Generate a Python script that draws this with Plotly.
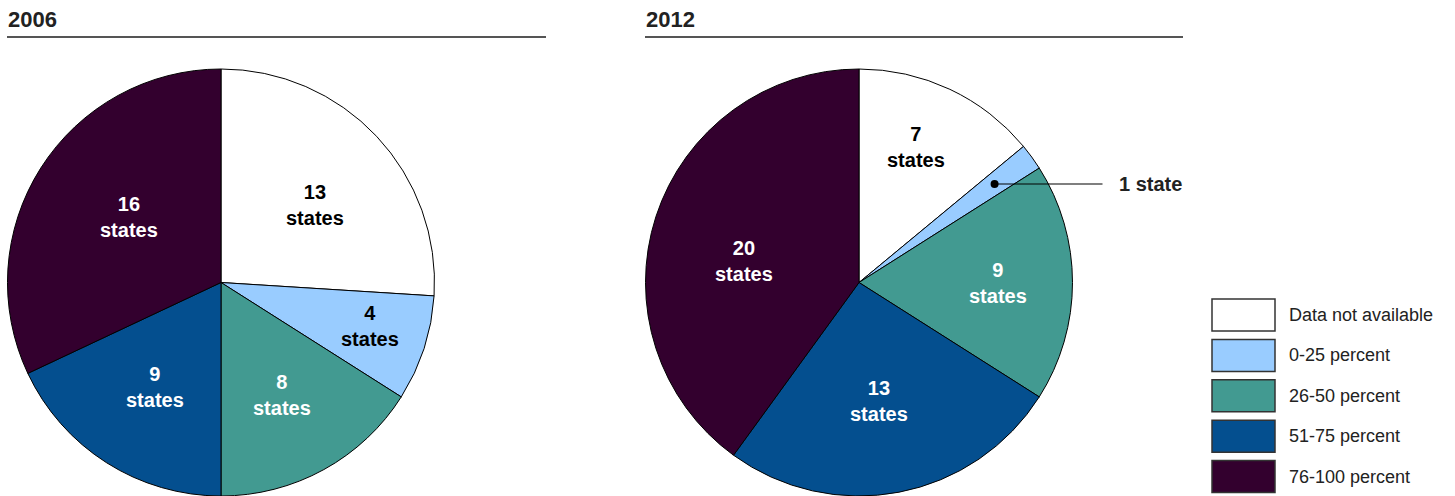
import math
import plotly.graph_objects as go

# ---------------- data ----------------
categories = ["Data not available", "0-25 percent", "26-50 percent", "51-75 percent", "76-100 percent"]
years = ["2006", "2012"]
states_2006 = [13, 4, 8, 9, 16]
states_2012 = [7, 1, 9, 13, 20]

# ---------------- styles ----------------
colors = ["#FFFFFF", "#99CCFF", "#429A91", "#044F8F", "#33002E"]
label_colors = ["#000000", "#000000", "#FFFFFF", "#FFFFFF", "#FFFFFF"]
# label placement: fraction of radius and angular nudge (degrees) from slice mid-angle
label_radius = [[0.57, 0.725, 0.60, 0.58, 0.53], [0.69, 0.785, 0.65, 0.565, 0.55]]
label_nudge = [[3.7, -1.7, 0.6, 0.0, 2.8], [-2.4, 0.0, 0.0, 1.3, -7.5]]

# ---------------- layout constants (pixels) ----------------
W, H = 1455, 496
FONT = "Liberation Sans, Arial, Helvetica, sans-serif"
pie_left = [7, 645]
pie_top = 69
pie_size = 428
title_line_right = [546, 1183]


def px_x(px):
    return px / W


def px_y(py):
    return 1 - py / H


fig = go.Figure()
shapes = []
annotations = []

for i, (year, vals) in enumerate(zip(years, [states_2006, states_2012])):
    x0 = pie_left[i]
    dom_x = [px_x(x0), px_x(x0 + pie_size)]
    dom_y = [0, px_y(pie_top)]
    fig.add_trace(go.Pie(
        labels=categories,
        values=vals,
        sort=False,
        direction="clockwise",
        rotation=0,
        marker=dict(colors=colors, line=dict(color="#000000", width=1)),
        textinfo="none",
        hoverinfo="label+value",
        showlegend=False,
        domain=dict(x=dom_x, y=dom_y),
    ))
    # geometry of the drawn pie
    r = min(pie_size, (dom_y[1] - dom_y[0]) * H) / 2
    cx = x0 + pie_size / 2
    cy = (1 - (dom_y[0] + dom_y[1]) / 2) * H
    total = sum(vals)
    cum = 0
    for k, v in enumerate(vals):
        a0 = cum / total * 2 * math.pi
        cum += v
        a1 = cum / total * 2 * math.pi
        mid = (a0 + a1) / 2 + math.radians(label_nudge[i][k])
        f = label_radius[i][k]
        tx = cx + f * r * math.sin(mid)
        ty = cy - f * r * math.cos(mid)
        if v == 1:
            # callout
            shapes.append(dict(type="circle", xref="paper", yref="paper",
                               x0=px_x(tx - 4), x1=px_x(tx + 4),
                               y0=px_y(ty + 4), y1=px_y(ty - 4),
                               fillcolor="#000000", line=dict(color="#000000", width=0)))
            edge = cx + r
            shapes.append(dict(type="line", xref="paper", yref="paper",
                               x0=px_x(tx), x1=px_x(edge + 30), y0=px_y(ty), y1=px_y(ty),
                               line=dict(color="#000000", width=1.2)))
            annotations.append(dict(text="<b>%d state</b>" % v, x=px_x(edge + 44), y=px_y(ty),
                                    xref="paper", yref="paper", xanchor="left", yanchor="middle",
                                    showarrow=False, font=dict(family=FONT, size=20, color="#222222")))
            continue
        annotations.append(dict(text="<b>%d<br>states</b>" % v, x=px_x(tx), y=px_y(ty),
                                xref="paper", yref="paper", xanchor="center", yanchor="middle",
                                showarrow=False, align="center",
                                font=dict(family=FONT, size=20, color=label_colors[k])))
    # title + rule
    annotations.append(dict(text="<b>%s</b>" % year, x=px_x(x0 - 1), y=px_y(19),
                            xref="paper", yref="paper", xanchor="left", yanchor="middle",
                            showarrow=False, font=dict(family=FONT, size=22, color="#222222")))
    shapes.append(dict(type="line", xref="paper", yref="paper",
                       x0=px_x(x0), x1=px_x(title_line_right[i]), y0=px_y(37), y1=px_y(37),
                       line=dict(color="#555555", width=2)))

# ---------------- legend (custom boxes) ----------------
leg_x0, leg_x1 = 1212, 1275
leg_top = 299
box_h = 32
pitch = 40.4
for k, (cat, col) in enumerate(zip(categories, colors)):
    y0 = leg_top + k * pitch
    shapes.append(dict(type="rect", xref="paper", yref="paper",
                       x0=px_x(leg_x0), x1=px_x(leg_x1), y0=px_y(y0 + box_h), y1=px_y(y0),
                       fillcolor=col, line=dict(color="#333333", width=1.5)))
    annotations.append(dict(text=cat, x=px_x(1287), y=px_y(y0 + box_h / 2),
                            xref="paper", yref="paper", xanchor="left", yanchor="middle",
                            showarrow=False, font=dict(family=FONT, size=18, color="#222222")))

fig.update_layout(
    width=W, height=H,
    margin=dict(l=0, r=0, t=0, b=0),
    paper_bgcolor="#FFFFFF",
    plot_bgcolor="#FFFFFF",
    shapes=shapes,
    annotations=annotations,
    showlegend=False,
)

fig.write_html("out.html", config={"displayModeBar": False},
               post_script="document.body.style.margin='0';document.body.style.overflow='hidden';")
